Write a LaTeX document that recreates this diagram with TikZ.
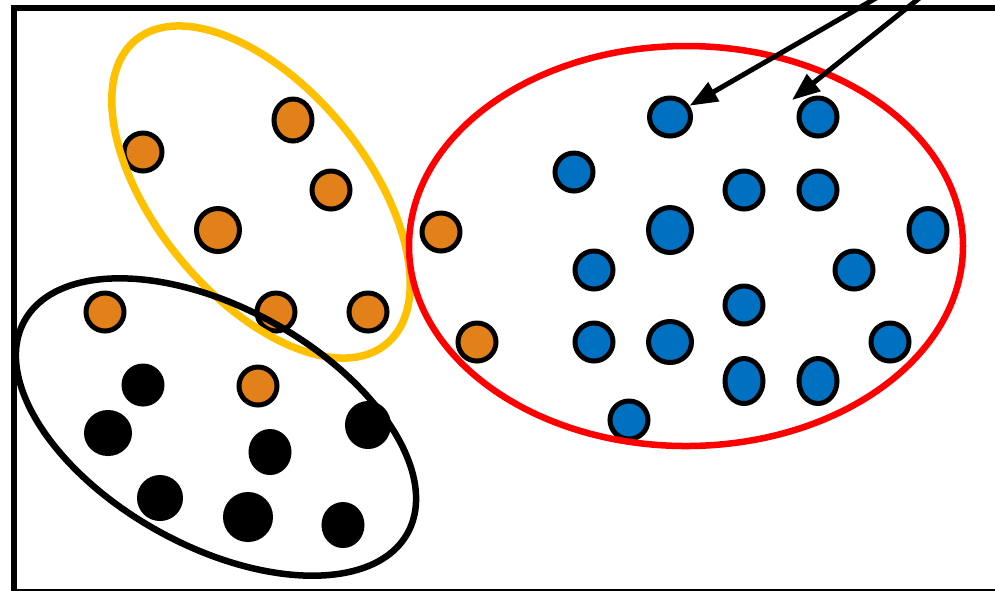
\documentclass[tikz,border=0pt]{standalone}
\usepackage{tikz}
\usetikzlibrary{shapes.geometric,arrows.meta}
\definecolor{ptorange}{HTML}{E2801A}
\definecolor{ptblue}{HTML}{0070C0}
\definecolor{ringyellow}{HTML}{FFC000}
\definecolor{ringred}{HTML}{FF0000}

\begin{document}
\begin{tikzpicture}[x=0.1mm, y=-0.1mm,
    basept/.style={ellipse, draw=black, line width=0.5mm, inner sep=0pt, minimum width=3.8mm, minimum height=3.8mm},
    orangept/.style={basept, fill=ptorange},
    bluept/.style={basept, fill=ptblue},
    blackpt/.style={basept, fill=black},
    ring/.style={line width=0.65mm},
    pointer/.style={-{Triangle[length=2.8mm,width=2.1mm]}, line width=0.5mm}]
    \useasboundingbox (0,0) rectangle (995,590);
    \clip (0,0) rectangle (995,590);

    % Frame
    \draw[line width=0.6mm] (14,8) rectangle (1020,591.5);

    % Orange points
    \node[orangept, minimum height=4.2mm] (o1) at (293,120) {};
    \node[orangept] (o2) at (143,152) {};
    \node[orangept] (o3) at (331,190) {};
    \node[orangept, minimum width=4.3mm, minimum height=4.3mm] (o4) at (218,230) {};
    \node[orangept] (o5) at (105,312) {};
    \node[orangept] (o6) at (276,312) {};
    \node[orangept] (o7) at (368,312) {};
    \node[orangept] (o8) at (258,386) {};
    \node[orangept] (o9) at (441,232) {};
    \node[orangept] (o10) at (477,342) {};

    % Black points
    \node[blackpt] (k1) at (143,385) {};
    \node[blackpt, minimum width=4.3mm, minimum height=4.1mm] (k2) at (108,433) {};
    \node[blackpt, minimum height=4.1mm] (k3) at (270,452) {};
    \node[blackpt, minimum width=4.1mm, minimum height=4.3mm] (k4) at (368,425) {};
    \node[blackpt, minimum width=4.1mm, minimum height=4.1mm] (k5) at (160,498) {};
    \node[blackpt, minimum width=4.5mm, minimum height=4.5mm] (k6) at (248,517) {};
    \node[blackpt, minimum height=4.1mm] (k7) at (343,525) {};

    % Blue points
    \node[bluept, minimum width=4.1mm] (b1) at (670,117) {};
    \node[bluept] (b2) at (818,117) {};
    \node[bluept] (b3) at (574,172) {};
    \node[bluept] (b4) at (744,190) {};
    \node[bluept] (b5) at (818,190) {};
    \node[bluept, minimum width=4.3mm, minimum height=4.5mm] (b6) at (670,230) {};
    \node[bluept, minimum height=4.3mm] (b7) at (928,230) {};
    \node[bluept] (b8) at (594,270) {};
    \node[bluept] (b9) at (854,270) {};
    \node[bluept] (b10) at (744,305) {};
    \node[bluept] (b11) at (594,342) {};
    \node[bluept, minimum width=4.3mm, minimum height=4.1mm] (b12) at (670,342) {};
    \node[bluept] (b13) at (890,342) {};
    \node[bluept, minimum height=4.5mm] (b14) at (744,381) {};
    \node[bluept, minimum height=4.5mm] (b15) at (818,381) {};
    \node[bluept] (b16) at (629,420) {};

    % Clusters
    \draw[ring, draw=ringyellow, line width=0.75mm, rotate around={-50.5:(261,192)}] (261,192) ellipse (197 and 105);
    \draw[ring, draw=black, rotate around={-29:(216,427)}] (216,427) ellipse (219 and 119);
    \draw[ring, draw=ringred] (686,246) ellipse (277 and 200);

    % Pointers
    \coordinate (src1) at (942,-40);
    \coordinate (src2) at (967,-40);
    \coordinate (tip2) at (792,100);
    \draw[pointer] (src1) -- (b1);
    \draw[pointer] (src2) -- (tip2);
\end{tikzpicture}
\end{document}
